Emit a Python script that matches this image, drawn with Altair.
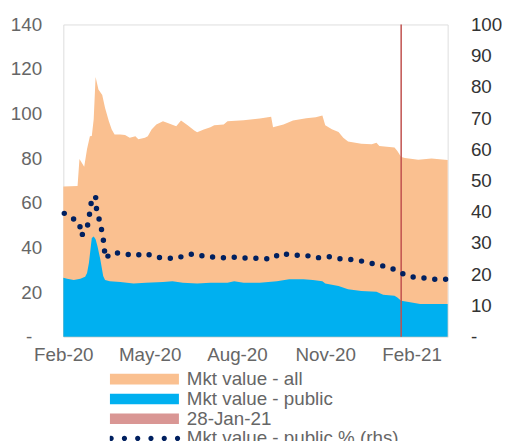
import altair as alt
import pandas as pd

# ---------------- data ----------------
dates_all = ["2020-02-07", "2020-02-22", "2020-02-24", "2020-02-29", "2020-03-03", "2020-03-06",
             "2020-03-08", "2020-03-10", "2020-03-12", "2020-03-15", "2020-03-19", "2020-03-22",
             "2020-03-26", "2020-03-29", "2020-04-01", "2020-04-07", "2020-04-12", "2020-04-17",
             "2020-04-23", "2020-04-26", "2020-05-03", "2020-05-06", "2020-05-10", "2020-05-15",
             "2020-05-22", "2020-05-27", "2020-06-05", "2020-06-10", "2020-06-17", "2020-06-24",
             "2020-06-27", "2020-07-04", "2020-07-11", "2020-07-15", "2020-07-25", "2020-07-29",
             "2020-08-15", "2020-09-01", "2020-09-13", "2020-09-15", "2020-09-26", "2020-10-06",
             "2020-10-20", "2020-10-30", "2020-11-06", "2020-11-09", "2020-11-16", "2020-11-23",
             "2020-11-28", "2020-12-03", "2020-12-17", "2020-12-28", "2021-01-02", "2021-01-05",
             "2021-01-21", "2021-01-24", "2021-01-28", "2021-02-01", "2021-02-15", "2021-03-01",
             "2021-03-18"]
mkt_all = [67.3, 67.6, 79.7, 76.2, 84.2, 89.9,
           90.0, 97.5, 116.5, 110.8, 108.4, 102.5,
           96.6, 92.9, 90.7, 90.7, 90.4, 89.2,
           89.9, 88.5, 89.2, 89.9, 92.9, 95.1,
           96.6, 95.8, 94.4, 96.9, 94.8, 92.4,
           91.7, 92.9, 93.9, 94.8, 95.1, 96.6,
           97.0, 97.8, 98.6, 93.9, 95.1, 96.9,
           98.0, 98.4, 99.2, 94.8, 93.0, 91.8,
           89.2, 87.5, 86.5, 86.3, 87.0, 85.5,
           84.8, 83.3, 80.6, 80.1, 79.3, 79.9,
           79.2]

dates_public = ["2020-02-07", "2020-02-11", "2020-02-18", "2020-02-25", "2020-03-01", "2020-03-03",
                "2020-03-05", "2020-03-08", "2020-03-10", "2020-03-12", "2020-03-14", "2020-03-17",
                "2020-03-20", "2020-03-22", "2020-03-27", "2020-04-07", "2020-04-21", "2020-05-04",
                "2020-05-22", "2020-06-01", "2020-06-12", "2020-06-27", "2020-07-11", "2020-07-29",
                "2020-08-05", "2020-08-15", "2020-09-01", "2020-09-19", "2020-10-02", "2020-10-17",
                "2020-10-27", "2020-11-06", "2020-11-09", "2020-11-23", "2020-12-03", "2020-12-17",
                "2021-01-02", "2021-01-09", "2021-01-21", "2021-01-24", "2021-01-28", "2021-02-05",
                "2021-02-17", "2021-03-18"]
mkt_public = [26.4, 26.0, 25.4, 26.0, 26.9, 28.5,
              33.1, 44.2, 44.9, 43.7, 40.5, 34.6,
              27.2, 25.4, 24.9, 24.5, 23.8, 24.2,
              24.5, 24.9, 24.2, 23.9, 24.2, 24.2,
              24.9, 24.2, 24.2, 24.9, 25.7, 25.7,
              25.4, 24.9, 23.9, 22.7, 21.3, 20.5,
              20.1, 18.8, 18.3, 17.6, 16.1, 15.6,
              14.6, 14.6]

dates_pct = ["2020-02-08", "2020-02-17", "2020-02-24", "2020-02-26", "2020-03-02", "2020-03-04",
             "2020-03-06", "2020-03-08", "2020-03-12", "2020-03-13", "2020-03-16", "2020-03-19",
             "2020-03-21", "2020-03-22", "2020-03-30", "2020-04-11", "2020-04-22", "2020-05-03",
             "2020-05-13", "2020-05-27", "2020-06-06", "2020-06-16", "2020-06-26", "2020-07-07",
             "2020-07-17", "2020-07-27", "2020-08-08", "2020-08-19", "2020-08-31", "2020-09-14",
             "2020-09-23", "2020-10-06", "2020-10-18", "2020-10-30", "2020-11-12", "2020-11-24",
             "2020-12-08", "2020-12-21", "2021-01-02", "2021-01-16", "2021-01-27", "2021-02-07",
             "2021-02-19", "2021-03-04", "2021-03-16"]
public_pct = [39.5, 37.9, 36.3, 32.3, 34.5, 36.1,
              40.0, 44.2, 45.0, 40.8, 37.3, 33.3,
              29.3, 25.1, 27.0, 26.6, 25.9, 26.8,
              25.5, 25.1, 25.1, 26.3, 26.5, 25.5,
              25.5, 25.2, 25.5, 25.1, 25.1, 24.9,
              26.8, 26.0, 26.2, 25.2, 25.7, 25.0,
              24.7, 24.0, 23.1, 22.2, 20.5, 19.2,
              18.9, 18.4, 18.4]

event_date = ["2021-01-28"]

series_names = ["Mkt value - all", "Mkt value - public", "28-Jan-21", "Mkt value - public % (rhs)"]
series_colors = ["#FAC090", "#00B0F0", "#D99694", "#002060"]
event_line_color = "#C0504D"

x_domain = [(2020, 2, 7), (2021, 3, 18)]
x_ticks = [(2020, 2, 7), (2020, 5, 8), (2020, 8, 8), (2020, 11, 9), (2021, 2, 8)]
left_ticks = [20, 40, 60, 80, 100, 120, 140]
left_zero_tick = [0]
right_ticks = [0, 10, 20, 30, 40, 50, 60, 70, 80, 90, 100]
left_domain = [0, 140]
right_domain = [0, 100]

FONT = "Liberation Sans"
FS = 19

# ---------------- frames ----------------
df_all = pd.DataFrame({"date": dates_all, "value": mkt_all})
df_pub = pd.DataFrame({"date": dates_public, "value": mkt_public})
df_pct = pd.DataFrame({"date": dates_pct, "value": public_pct})
df_event = pd.DataFrame({"date": event_date})
df_empty = pd.DataFrame({"series": pd.Series([], dtype=str), "value": pd.Series([], dtype=float)})

# legend symbols: wide bars, and a row of dots for the dotted line
RECT = "M-1,-0.153H1V0.153H-1Z"
r = 0.075
centers = [-0.96, -0.576, -0.192, 0.192, 0.576, 0.96]
DOTS = "".join(
    f"M{c - r:.3f},0A{r},{r} 0 1,0 {c + r:.3f},0A{r},{r} 0 1,0 {c - r:.3f},0Z" for c in centers
)

fill_scale = alt.Scale(domain=series_names, range=series_colors)
shape_scale = alt.Scale(domain=series_names, range=[RECT, RECT, RECT, DOTS])


def dt(t):
    return alt.DateTime(year=t[0], month=t[1], date=t[2], utc=True)


x_enc = alt.X(
    "date:T",
    title=None,
    scale=alt.Scale(type="utc", domain=[dt(t) for t in x_domain]),
    axis=alt.Axis(
        values=[dt(t) for t in x_ticks], format="%b-%y", grid=False, domain=False, ticks=False,
        labelFlush=False, labelOverlap=False, labelPadding=9, labelFontSize=FS,
        labelColor="#666666", labelFont=FONT,
    ),
)

y_left = alt.Y(
    "value:Q", title=None, stack=None,
    scale=alt.Scale(domain=left_domain, nice=False),
    axis=alt.Axis(
        values=left_ticks, grid=False, domain=False, ticks=False, labelPadding=22,
        labelFontSize=FS, labelColor="#666666", labelFont=FONT,
    ),
)

# zero of the left axis is shown as an accounting-style dash, set further left
y_left_zero = alt.Y(
    "value:Q", title=None,
    scale=alt.Scale(domain=left_domain, nice=False),
    axis=alt.Axis(
        orient="left", values=left_zero_tick, grid=False, domain=False, ticks=False,
        labelPadding=32, labelFontSize=FS, labelColor="#666666", labelFont=FONT,
        labelExpr="'-'",
    ),
)

y_right = alt.Y(
    "value:Q", title=None,
    scale=alt.Scale(domain=right_domain, nice=False),
    axis=alt.Axis(
        orient="right", values=right_ticks, grid=False, domain=False, ticks=False,
        labelPadding=23, labelFontSize=FS, labelColor="#333333", labelFont=FONT,
        labelExpr="datum.value == 0 ? '-' : datum.label",
    ),
)

area_all = alt.Chart(df_all).mark_area(opacity=1, fill=series_colors[0]).encode(x=x_enc, y=y_left)
area_pub = alt.Chart(df_pub).mark_area(opacity=1, fill=series_colors[1]).encode(x=x_enc, y=y_left)
rule = alt.Chart(df_event).mark_rule(stroke=event_line_color, strokeWidth=1.5).encode(x=x_enc)

leg = alt.Legend(
    title=None, orient="none", legendX=47, legendY=349.5, direction="vertical",
    symbolSize=4900, symbolStrokeWidth=0, symbolOpacity=1, rowPadding=0, clipHeight=19,
    padding=0, labelOffset=8, labelFontSize=FS, labelFont=FONT, labelColor="#666666",
    labelLimit=400,
)
legend_pts = alt.Chart(df_empty).mark_point(filled=True, opacity=1, strokeWidth=0).encode(
    fill=alt.Fill("series:N", scale=fill_scale, legend=leg),
    shape=alt.Shape("series:N", scale=shape_scale, legend=leg),
)

line = alt.Chart(df_pct).mark_line(
    stroke=series_colors[3], strokeWidth=5.5, strokeDash=[0, 11], strokeCap="round"
).encode(x=x_enc, y=y_right)

zero_axis = alt.Chart(df_empty).mark_point(opacity=0).encode(y=y_left_zero)

left = alt.layer(area_all, area_pub, rule, legend_pts)

chart = (
    alt.layer(left, line, zero_axis)
    .resolve_scale(y="independent")
    .properties(
        width=389, height=316,
        padding={"left": 56, "top": 14, "right": 55, "bottom": 110},
        autosize=alt.AutoSizeParams(type="none"),
    )
    .configure_view(stroke=None)
    .configure(font=FONT)
)

chart.save("out.html", embed_options={"renderer": "svg", "actions": False})
